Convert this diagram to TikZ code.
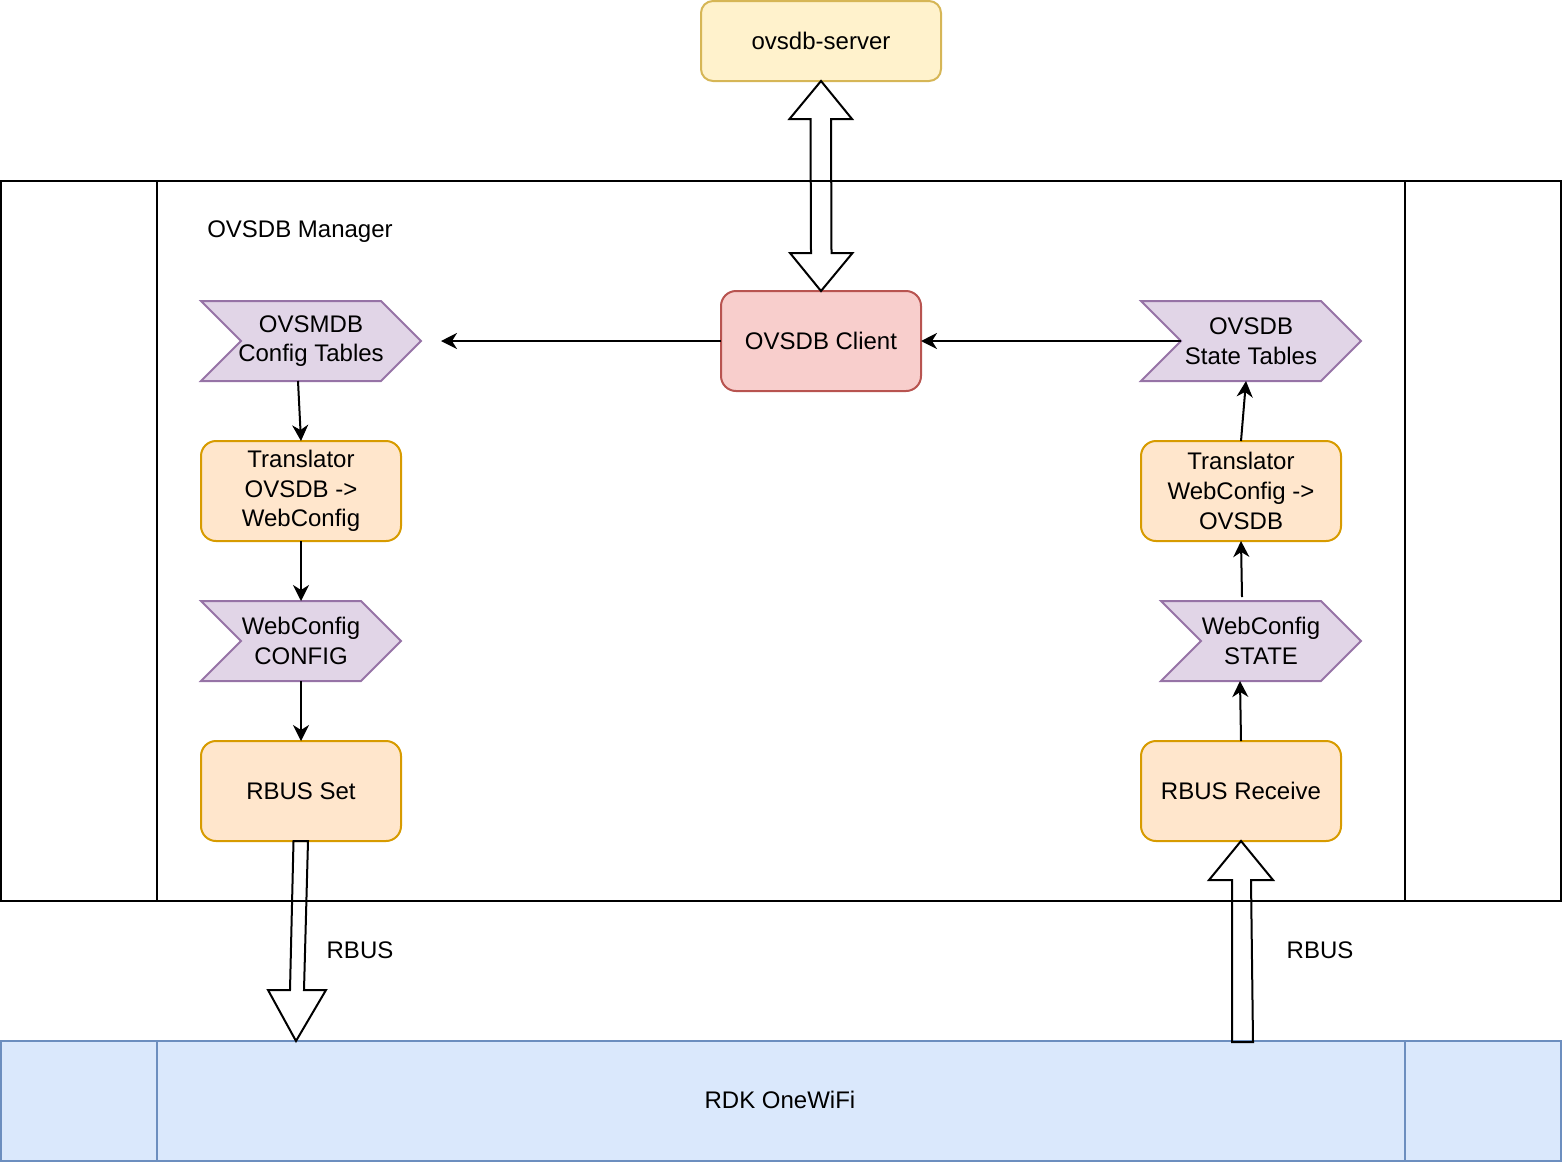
\documentclass[tikz,border=0pt]{standalone}
\usepackage{fontspec}
\setmainfont{Liberation Sans}
\usetikzlibrary{calc,arrows.meta}
\pgfdeclarelayer{background}
\pgfsetlayers{background,main}
\definecolor{yfill}{HTML}{FFF2CC}\definecolor{ystroke}{HTML}{D6B656}
\definecolor{rfill}{HTML}{F8CECC}\definecolor{rstroke}{HTML}{B85450}
\definecolor{pfill}{HTML}{E1D5E7}\definecolor{pstroke}{HTML}{9673A6}
\definecolor{ofill}{HTML}{FFE6CC}\definecolor{ostroke}{HTML}{D79B00}
\definecolor{bfill}{HTML}{DAE8FC}\definecolor{bstroke}{HTML}{6C8EBF}
\tikzset{
  txt/.style={font=\fontsize{12}{14.8}\selectfont, align=center, inner sep=0pt, outer sep=0pt},
  box/.style={txt, draw, line width=1pt, rounded corners=7.5pt, minimum width=100pt, minimum height=50pt},
  obox/.style={box, fill=ofill, draw=ostroke},
  stepnode/.style={txt, minimum height=40pt},
  stepline/.style={draw=pstroke, fill=pfill, line width=1pt, line join=miter},
  conn/.style={line width=1pt, -{Stealth[length=8pt,width=8pt,inset=2.5pt]}},
  flex/.style={draw=black, line width=1pt, line join=miter},
  plain/.style={txt}
}
\begin{document}
\begin{tikzpicture}[x=0.5pt,y=-0.5pt]
\useasboundingbox (0,0) rectangle (1562,1162);
% containers
\node[txt, draw, line width=1pt, minimum width=780pt, minimum height=360pt] (mgr) at (781,541) {};
\draw[line width=1pt] ($(mgr.north west)+(156,0)$) -- ($(mgr.south west)+(156,0)$);
\draw[line width=1pt] ($(mgr.north east)+(-156,0)$) -- ($(mgr.south east)+(-156,0)$);
\node[txt, draw=bstroke, fill=bfill, line width=1pt, minimum width=780pt, minimum height=60pt] (rdk) at (781,1101) {};
\draw[bstroke, line width=1pt] ($(rdk.north west)+(156,0)$) -- ($(rdk.south west)+(156,0)$);
\draw[bstroke, line width=1pt] ($(rdk.north east)+(-156,0)$) -- ($(rdk.south east)+(-156,0)$);
\node[plain] (rdklbl) at (780,1100) {RDK OneWiFi};
\node[plain] (mgrlbl) at (300,232) {OVSDB Manager};
% nodes
\node[box, rounded corners=6pt, fill=yfill, draw=ystroke, minimum width=120pt, minimum height=40pt] (srv) at (821,41) {ovsdb-server};
\node[box, fill=rfill, draw=rstroke] (cli) at (821,341) {OVSDB Client};
\node[stepnode, minimum width=110pt] (cfgt) at (311,341) {OVSMDB\\Config Tables};
\node[stepnode, minimum width=110pt] (stt) at (1251,341) {OVSDB\\State Tables};
\node[stepnode, minimum width=100pt] (wcc) at (301,641) {WebConfig\\CONFIG};
\node[stepnode, minimum width=100pt] (wcs) at (1261,641) {WebConfig\\STATE};
\node[obox] (trl) at (301,491) {Translator\\OVSDB ->\\WebConfig};
\node[obox] (trr) at (1241,491) {Translator\\WebConfig ->\\OVSDB};
\node[obox] (rset) at (301,791) {RBUS Set};
\node[obox] (rrcv) at (1241,791) {RBUS Receive};
\node[plain] (rbusl) at (360,950) {RBUS};
\node[plain] (rbusr) at (1320,950) {RBUS};
\begin{pgfonlayer}{background}
\foreach \n in {cfgt,stt,wcc,wcs}
  \path[stepline] (\n.north west) -- ($(\n.north east)+(-40,0)$) -- (\n.east) -- ($(\n.south east)+(-40,0)$) -- (\n.south west) -- ($(\n.west)+(40,0)$) -- cycle;
\end{pgfonlayer}
% connectors
\coordinate (cfgend) at ($(cfgt.east)+(20,0)$);
\coordinate (sttnotch) at ($(stt.west)+(40,0)$);
\draw[conn] (cli.west) -- (cfgend);
\draw[conn] (sttnotch) -- (cli.east);
\draw[conn] ($(cfgt.south)+(-13,0)$) -- (trl.north);
\draw[conn] (trl.south) -- (wcc.north);
\draw[conn] (wcc.south) -- (rset.north);
\draw[conn] (rrcv.north) -- ($(wcs.south)+(-21,0)$);
\draw[conn] ($(wcs.north)+(-19,-4)$) -- (trr.south);
\draw[conn] (trr.north) -- ($(stt.south)+(-5,0)$);
% flex arrows
\draw[flex] (srv.south) -- ++(31,38) -- ++(-21,0) -- ($(cli.north)+(10.5,-38)$) -- ++(21,0) -- (cli.north)
  -- ++(-31,-38) -- ++(21,0) -- ($(srv.south)+(-10.5,38)$) -- ++(-21,0) -- cycle;
\coordinate (ltip) at ($(rdk.north west)+(295,0)$);
\draw[flex] ($(rset.south)+(-7.5,0)$) -- ($(rset.south)+(7,0)$) -- ($(ltip)+(8,-51)$) -- ($(ltip)+(30,-51)$) -- (ltip)
  -- ($(ltip)+(-28,-51)$) -- ($(ltip)+(-6,-51)$) -- cycle;
\coordinate (rtail) at ($(rdk.north west)+(1241.5,1)$);
\draw[flex] ($(rtail)+(-10.5,0)$) -- ($(rtail)+(10.5,0)$) -- ($(rrcv.south)+(10,39)$) -- ($(rrcv.south)+(32,39)$) -- (rrcv.south)
  -- ($(rrcv.south)+(-32,39)$) -- ($(rrcv.south)+(-9,39)$) -- cycle;
\end{tikzpicture}
\end{document}
